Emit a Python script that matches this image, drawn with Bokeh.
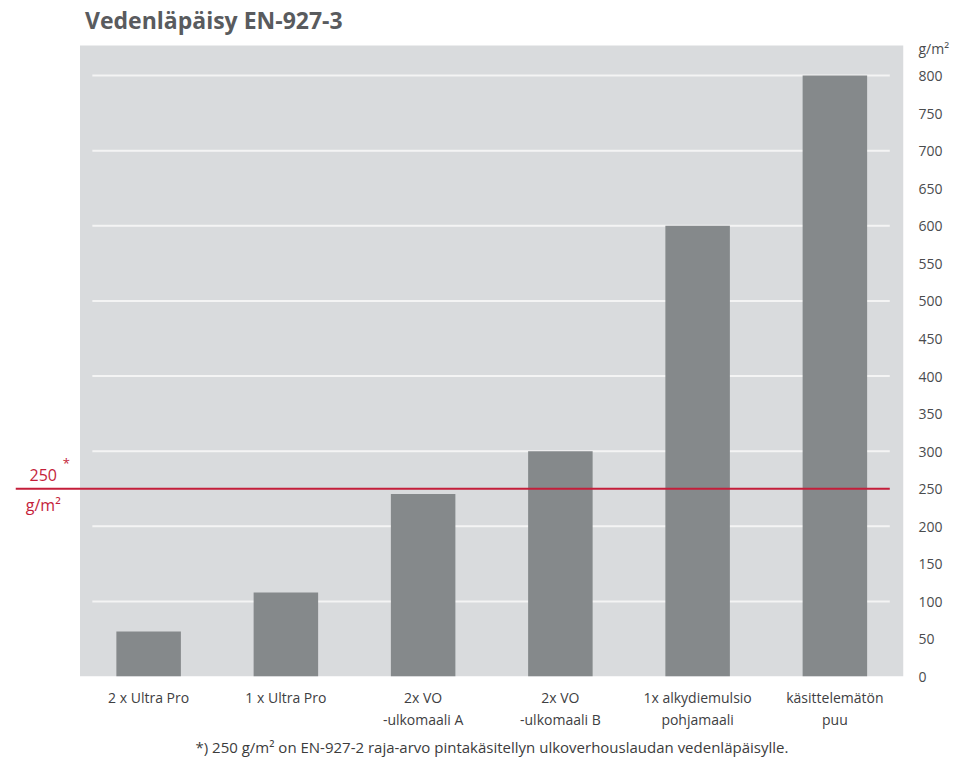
from bokeh.plotting import figure
from bokeh.models import Range1d, FixedTicker, Label, Title
from bokeh.embed import file_html
from bokeh.resources import INLINE

# ---- data ----
categories = ["2 x Ultra Pro", "1 x Ultra Pro", "2x VO\n-ulkomaali A",
              "2x VO\n-ulkomaali B", "1x alkydiemulsio\npohjamaali", "käsittelemätön\npuu"]
values = [60, 112, 243, 300, 600, 800]
y_ticks = list(range(0, 801, 50))
grid_values = list(range(100, 801, 100))
threshold = 250
unit_tick = 836
title_text = "Vedenläpäisy EN-927-3"
unit_text = "g/m²"
footnote = "*) 250 g/m² on EN-927-2 raja-arvo pintakäsitellyn ulkoverhouslaudan vedenläpäisylle."

FONT = "Open Sans"
TXT = "#4a4c4e"
BG = "#d9dbdd"
BAR = "#85898b"
RED = "#c41e3a"

xs = list(range(len(categories)))
x_lo, x_hi = -0.97, len(categories) - 0.5
panel_top = 840      # top of grey panel
y_end = 900          # frame extends above the panel to hold the title

p = figure(width=952, height=762, output_backend="svg", toolbar_location=None,
           x_range=Range1d(x_lo, x_hi), y_range=Range1d(0, y_end),
           y_axis_location="right",
           min_border_left=15, min_border_right=45, min_border_top=0, min_border_bottom=86)
p.outline_line_color = None
p.background_fill_color = "white"
p.border_fill_color = "white"
p.xgrid.visible = False
p.ygrid.visible = False

# plot background
p.quad(left=[-0.5], right=[x_hi], bottom=[0], top=[panel_top], fill_color=BG, line_color=None)

# grid lines
p.segment(x0=[-0.41] * len(grid_values), x1=[x_hi - 0.1] * len(grid_values),
          y0=grid_values, y1=grid_values, line_color="#f4f4f4", line_width=2)

# bars
p.vbar(x=xs, top=values, width=0.47, bottom=0, fill_color=BAR, line_color=None)

# threshold line
p.segment(x0=[x_lo], x1=[x_hi - 0.1], y0=[threshold], y1=[threshold],
          line_color=RED, line_width=2)

# axes
ya = p.yaxis[0]
ya.ticker = FixedTicker(ticks=y_ticks + [unit_tick])
ya.major_label_overrides = {unit_tick: unit_text}
ya.axis_line_color = None
ya.major_tick_line_color = None
ya.minor_tick_line_color = None
ya.major_tick_out = 0
ya.major_tick_in = 0
ya.minor_tick_out = 0
ya.major_label_standoff = 15
ya.major_label_text_font = FONT
ya.major_label_text_font_size = "14px"
ya.major_label_text_color = TXT

xa = p.xaxis[0]
xa.ticker = FixedTicker(ticks=xs)
xa.major_label_overrides = {i: c for i, c in zip(xs, categories)}
xa.axis_line_color = None
xa.major_tick_line_color = None
xa.minor_tick_line_color = None
xa.major_tick_out = 0
xa.major_tick_in = 0
xa.minor_tick_out = 0
xa.major_label_standoff = 11
xa.major_label_text_font = FONT
xa.major_label_text_font_size = "14px"
xa.major_label_text_color = "#3e4042"

# title & footnote
p.add_layout(Label(x=-0.5, y=panel_top, x_offset=5, y_offset=26, text=title_text,
                   text_font=FONT, text_font_size="23px", text_font_style="bold",
                   text_color="#595b5e", text_baseline="alphabetic"))
p.add_layout(Title(text=footnote, align="left", offset=180, standoff=4,
                   text_font=FONT, text_font_size="15px", text_font_style="normal",
                   text_color="#3c3c3c"), "below")

# threshold label
p.add_layout(Label(x=-0.768, y=threshold, y_offset=8, text="250",
                   text_font=FONT, text_font_size="16px", text_color=RED,
                   text_align="center", text_baseline="bottom"))
p.add_layout(Label(x=-0.768, y=threshold, x_offset=23, y_offset=17, text="*",
                   text_font=FONT, text_font_size="13px", text_color=RED,
                   text_align="center", text_baseline="bottom"))
p.add_layout(Label(x=-0.768, y=threshold, y_offset=-5, text=unit_text,
                   text_font=FONT, text_font_size="16px", text_color=RED,
                   text_align="center", text_baseline="top"))

open("out.html", "w").write(file_html(p, INLINE))
